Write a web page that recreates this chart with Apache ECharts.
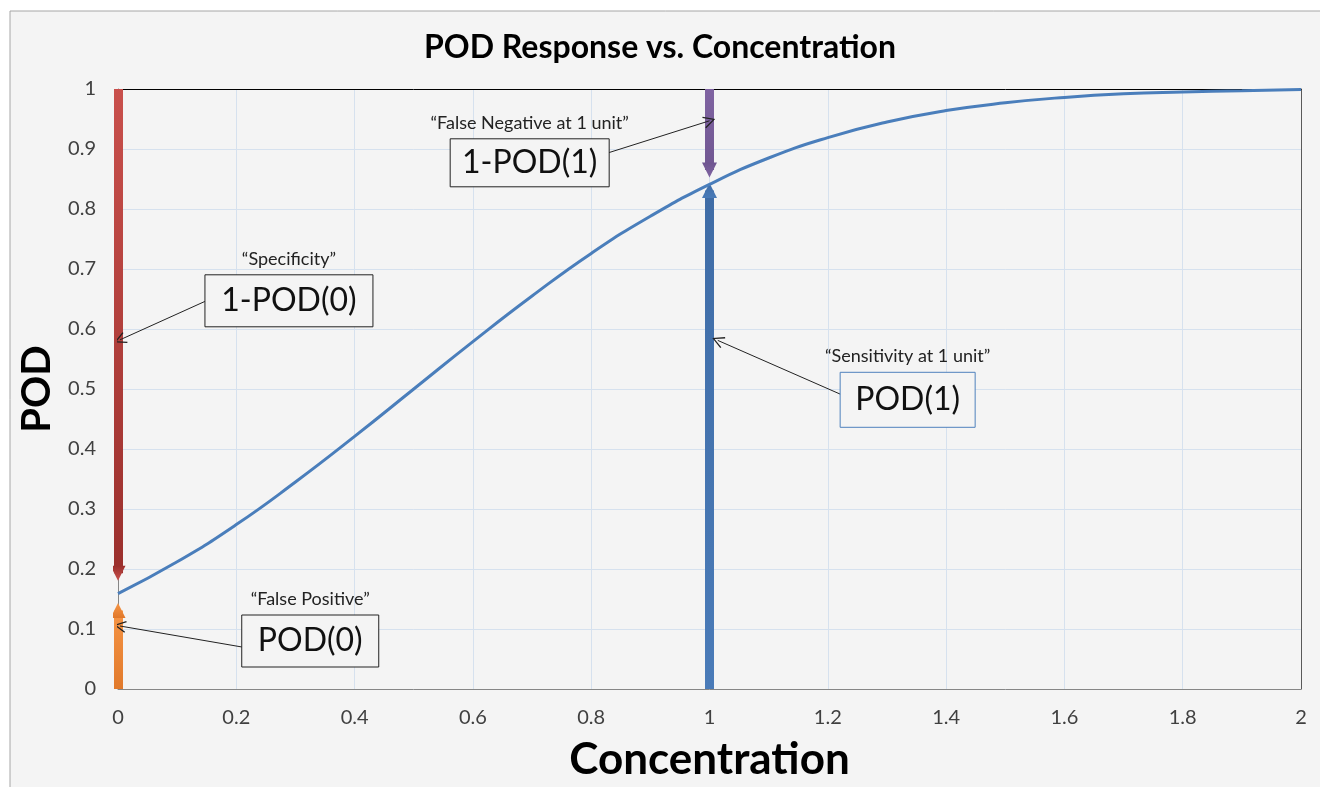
<!DOCTYPE html>
<html>
<head>
<meta charset="utf-8">
<title>POD Response vs. Concentration</title>
<script src="https://cdn.jsdelivr.net/npm/echarts@6/dist/echarts.min.js"></script>
<style>
    html, body { margin: 0; padding: 0; background: #fff; }
    #chart { width: 1320px; height: 787px; }
</style>
</head>
<body>
<div id="chart"></div>
<script>
// POD curve, every 0.1 unit
const concentration = [0, 0.1, 0.2, 0.3, 0.4, 0.5, 0.6, 0.7, 0.8, 0.9, 1.0,
    1.1, 1.2, 1.3, 1.4, 1.5, 1.6, 1.7, 1.8, 1.9, 2.0]
const pod = [0.159, 0.212, 0.274, 0.345, 0.421, 0.5, 0.579, 0.655, 0.726, 0.788, 0.841,
    0.885, 0.919, 0.945, 0.964, 0.977, 0.986, 0.992, 0.995, 0.997, 0.999]

// thick arrows: x position, start value, end of shaft (head sits on it)
const arrowX = [0, 0, 1, 1]
const arrowStart = [1, 0, 1, 0]
const arrowEnd = [0.193, 0.131, 0.865, 0.831]
const arrowColors = [['#c9504c', '#9a2f2c'], ['#f79646', '#e0782a'], ['#8064a2', '#6f5590'], ['#3f6ca6', '#4a7bb8']]

// callouts: caption above the box, box text, box centre in data units
const calloutCaption = ['\u201CFalse Negative at 1 unit\u201D', '\u201CSpecificity\u201D',
    '\u201CSensitivity at 1 unit\u201D', '\u201CFalse Positive\u201D']
const calloutText = ['1-POD(1)', '1-POD(0)', 'POD(1)', 'POD(0)']
const calloutX = [0.696, 0.289, 1.335, 0.325]
const calloutY = [0.877, 0.647, 0.482, 0.080]
// thin leader lines from the box to the arrow (data units)
const leaderFrom = [[0.83, 0.894], [0.147, 0.646], [1.222, 0.491], [0.2096, 0.070]]
const leaderTo = [[1.0, 0.947], [0.0034, 0.582], [1.014, 0.581], [0.0034, 0.105]]

// box look (pixels)
const boxSize = [[159, 48], [168, 52], [135, 55], [137, 52]]
const boxBorder = ['#222', '#222', '#4f81bd', '#222']

const FONT = 'Lato, "Open Sans", sans-serif'

const chart = echarts.init(document.getElementById('chart'))

const curveData = concentration.map((c, i) => [c, pod[i]])

const arrowData = arrowX.map((x, i) => ({
    coords: [[x, arrowStart[i]], [x, arrowEnd[i]]],
    lineStyle: {
        color: {
            type: 'linear', x: 0, y: 0, x2: 0, y2: 1,
            colorStops: [
                { offset: 0, color: arrowColors[i][0] },
                { offset: 1, color: arrowColors[i][1] }
            ]
        }
    }
}))

const leaderData = leaderFrom.map((p, i) => ({ coords: [p, leaderTo[i]] }))

const option = {
    backgroundColor: '#fff',
    animation: false,
    title: {
        text: 'POD Response vs. Concentration',
        left: 'center',
        top: 27,
        textStyle: { fontFamily: FONT, fontSize: 32, fontWeight: 'bold', color: '#000' }
    },
    grid: { left: 118, right: 19, top: 89, bottom: 97 },
    xAxis: [
        {
            type: 'value', min: 0, max: 2, interval: 0.2,
            name: 'Concentration', nameLocation: 'middle', nameGap: 49,
            nameTextStyle: { fontFamily: FONT, fontSize: 44, fontWeight: 'bold', color: '#000' },
            axisLine: { show: true, onZero: false, lineStyle: { color: '#868686' } },
            axisTick: { show: false },
            axisLabel: { fontFamily: FONT, fontSize: 20, color: '#404040', margin: 19 },
            splitLine: { lineStyle: { color: '#d6e1ee' } }
        },
        {
            type: 'value', min: 0, max: 2, position: 'top',
            axisLine: { show: true, onZero: false, lineStyle: { color: '#000' } },
            axisTick: { show: false }, axisLabel: { show: false }, splitLine: { show: false }
        }
    ],
    yAxis: [
        {
            type: 'value', min: 0, max: 1, interval: 0.1,
            name: 'POD', nameLocation: 'middle', nameGap: 54, nameRotate: 90,
            nameTextStyle: { fontFamily: FONT, fontSize: 40, fontWeight: 'bold', color: '#000' },
            axisLine: { show: true, onZero: false, lineStyle: { color: '#868686' } },
            axisTick: { show: false },
            axisLabel: { fontFamily: FONT, fontSize: 20, color: '#404040', margin: 22 },
            splitLine: { lineStyle: { color: '#d6e1ee' } }
        },
        {
            type: 'value', min: 0, max: 1, position: 'right',
            axisLine: { show: true, onZero: false, lineStyle: { color: '#5a5a5a' } },
            axisTick: { show: false }, axisLabel: { show: false }, splitLine: { show: false }
        }
    ],
    series: [
        {
            name: 'arrows',
            type: 'lines',
            coordinateSystem: 'cartesian2d',
            symbol: ['none', 'triangle'],
            symbolSize: 15,
            lineStyle: { width: 9, opacity: 1 },
            data: arrowData,
            z: 2
        },
        {
            name: 'POD',
            type: 'line',
            smooth: true,
            showSymbol: false,
            lineStyle: { color: '#4a7ebb', width: 3 },
            data: curveData,
            z: 3
        },
        {
            name: 'leaders',
            type: 'lines',
            coordinateSystem: 'cartesian2d',
            symbol: ['none', 'path://M5,0 L10,10 L9,10.6 L5,2.2 L1,10.6 L0,10 Z'],
            symbolSize: 12,
            lineStyle: { color: '#222', width: 1, opacity: 1 },
            data: leaderData,
            z: 4
        }
    ]
}

chart.setOption(option)

// callout boxes placed at their data positions
const graphics = [
    {
        type: 'rect', silent: true, z: -10,
        shape: { x: 10, y: 11, width: 1330, height: 800 },
        style: { fill: '#f4f4f4', stroke: '#a6a6a6', lineWidth: 1 }
    }
]
calloutText.forEach((t, i) => {
    const [cx, cy] = chart.convertToPixel({ gridIndex: 0 }, [calloutX[i], calloutY[i]])
    const [w, h] = boxSize[i]
    graphics.push({
        type: 'rect', z: 10,
        shape: { x: cx - w / 2, y: cy - h / 2, width: w, height: h },
        style: { fill: '#f4f4f4', stroke: boxBorder[i], lineWidth: 1 }
    })
    graphics.push({
        type: 'text', z: 11, x: cx, y: cy,
        style: { text: t, fontFamily: FONT, fontSize: 32, fill: '#111', align: 'center', verticalAlign: 'middle' }
    })
    graphics.push({
        type: 'text', z: 11, x: cx, y: cy - h / 2 - 16,
        style: { text: calloutCaption[i], fontFamily: FONT, fontSize: 18, fill: '#222', align: 'center', verticalAlign: 'middle' }
    })
})
chart.setOption({ graphic: graphics })
</script>
</body>
</html>
